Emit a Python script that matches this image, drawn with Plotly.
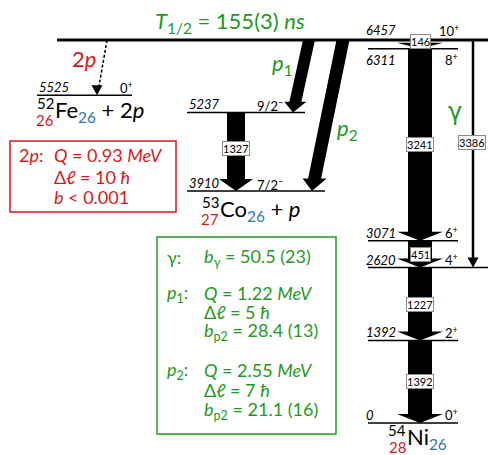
import plotly.graph_objects as go

# ---------------- data ----------------
ni_E = [0, 1392, 2620, 3071, 6311, 6457]
ni_spin = ["0", "2", "4", "6", "8", "10"]
ni_parity = ["+", "+", "+", "+", "+", "+"]
ni_gamma_from = [6457, 6311, 3071, 2620, 1392]
ni_gamma_to = [6311, 3071, 2620, 1392, 0]
ni_gamma_E = [146, 3241, 451, 1227, 1392]
cross_gamma_from = 6457
cross_gamma_to = 2620
cross_gamma_E = 3386

co_E = [3910, 5237]
co_spin = ["7/2", "9/2"]
co_gamma_from = 5237
co_gamma_to = 3910
co_gamma_E = 1327

fe_E = [5525]
fe_spin = ["0"]

p1_from, p1_to = 6457, 5237
p2_from, p2_to = 6457, 3910
p2p_from, p2p_to = 6457, 5525

GREEN = "#1f9a1f"
RED = "#d7191c"
BLUE = "#2e75b6"
FONT = "Lato"

# axis: x in px-like units, y in keV
Y0, Y1 = -540, 7133
KPP = (Y1 - Y0) / 455.0   # keV per pixel


def Y(py):
    return Y1 - py * KPP


def P(E):
    return (Y1 - E) / KPP


fig = go.Figure()
shapes = []
ann = []


def line(x0, x1, E, w=1.5):
    shapes.append(dict(type="line", x0=x0, x1=x1, y0=E, y1=E, xref="x", yref="y",
                       line=dict(color="black", width=w)))


def poly(pts, color="black"):
    path = "M " + " L ".join(f"{x:.2f},{y:.2f}" for x, y in pts) + " Z"
    shapes.append(dict(type="path", path=path, xref="x", yref="y",
                       fillcolor=color, line=dict(color=color, width=0)))


def text(x, py, s, size=13, color="black", xanchor="left", italic=False, family=FONT, **kw):
    if italic:
        s = "<i>" + s + "</i>"
    ann.append(dict(x=x, y=Y(py), xref="x", yref="y", text=s, showarrow=False,
                    xanchor=xanchor, yanchor="middle",
                    font=dict(size=size, color=color, family=family), **kw))


def box_label(x, E_mid, s):
    ann.append(dict(x=x, y=E_mid, xref="x", yref="y", text=s, showarrow=False,
                    xanchor="center", yanchor="middle", bgcolor="white",
                    bordercolor="#8a8a8a", borderwidth=1, borderpad=0,
                    font=dict(size=11, color="black", family=FONT)))


def vert_arrow(xc, E_from, E_to, half_shaft, half_head, head_px):
    Eb = E_to + head_px * KPP
    poly([(xc - half_shaft, E_from), (xc + half_shaft, E_from), (xc + half_shaft, Eb),
          (xc + half_head, Eb), (xc, E_to), (xc - half_head, Eb), (xc - half_shaft, Eb)])


def slant_arrow(x_top, E_from, x_tip, E_to, half_shaft, half_head, head_px):
    y_top, y_tip = P(E_from), P(E_to)
    dx, dy = x_tip - x_top, y_tip - y_top
    L = (dx * dx + dy * dy) ** 0.5
    ux, uy = dx / L, dy / L
    bx, by = x_tip - ux * head_px, y_tip - uy * head_px
    pts = [(x_top - half_shaft, y_top), (x_top + half_shaft, y_top),
           (bx + half_shaft, by), (bx + half_head, by), (x_tip, y_tip),
           (bx - half_head, by), (bx - half_shaft, by)]
    poly([(x, Y(y)) for x, y in pts])


# ---------------- Ni column ----------------
XC = 420
for f, t, e in zip(ni_gamma_from, ni_gamma_to, ni_gamma_E):
    if e == 146:
        vert_arrow(XC, f, t, 7, 23, 6)
    else:
        vert_arrow(XC, f, t, 12, 23, 9)

for E, sp, par in zip(ni_E, ni_spin, ni_parity):
    if E == 6457:
        line(57, 488, E, 3)
    elif E == 2620:
        line(368, 488, E, 1.5)
    else:
        line(368, 458, E, 1.5)
    off = 11 if E == 6311 else (-10 if E == 6457 else -8)
    text(364, P(E) + off, str(E), size=13, italic=True, xanchor="left")
    text(437 if len(sp) > 1 else 443, P(E) + off, f"{sp}<sup>{par}</sup>", size=13)

for f, t, e in zip(ni_gamma_from, ni_gamma_to, ni_gamma_E):
    mid = (f + t) / 2
    if e == 146:
        mid = Y(41.5)
    box_label(XC, mid, str(e))

# cross gamma 3386
xg = 473
shapes.append(dict(type="line", x0=xg, x1=xg, y0=cross_gamma_from, y1=cross_gamma_to + 9 * KPP,
                   xref="x", yref="y", line=dict(color="black", width=2.5)))
poly([(xg - 5.5, cross_gamma_to + 10 * KPP), (xg + 5.5, cross_gamma_to + 10 * KPP), (xg, cross_gamma_to)])
box_label(472, Y(142), str(cross_gamma_E))
text(455, 112, "γ", size=24, color=GREEN, xanchor="center", family="DejaVu Sans")

# ---------------- Co ----------------
for E, sp in zip(co_E, co_spin):
    line(187, 305 if E == 5237 else 325, E, 1.5)
    text(187, P(E) - 8, str(E), size=13, italic=True)
    text(255, P(E) - 7, sp + "<sup>−</sup>", size=13)
vert_arrow(236, co_gamma_from, co_gamma_to, 9, 17, 12)
box_label(236, Y(148), str(co_gamma_E))

# p1, p2 proton arrows
slant_arrow(309, p1_from, 293, p1_to, 6, 11, 11)
slant_arrow(343, p2_from, 312, p2_to, 6.5, 12, 13)
text(282, 64, "<i>p</i><sub>1</sub>", size=22, color=GREEN, xanchor="center")
text(347, 129, "<i>p</i><sub>2</sub>", size=22, color=GREEN, xanchor="center")

# ---------------- Fe ----------------
for E, sp in zip(fe_E, fe_spin):
    line(37, 132, E, 1.5)
    text(37, P(E) - 8, str(E), size=13, italic=True)
    text(118, P(E) - 8, sp + "<sup>+</sup>", size=13)
xt, yt = 97, P(p2p_to)
shapes.append(dict(type="line", x0=107, x1=99, y0=p2p_from, y1=Y(yt - 9), xref="x", yref="y",
                   line=dict(color="black", width=1.5, dash="3px,2px")))
poly([(91.5, Y(yt - 10)), (102.5, Y(yt - 10)), (xt, p2p_to)])
text(84, 58, "2<i>p</i>", size=22, color=RED, xanchor="center")

# ---------------- titles & isotope names ----------------
text(230, 22, "<i>T</i><sub>1/2</sub> = 155(3) <i>ns</i>", size=22, color=GREEN, xanchor="center")


def isotope(x, py, A, Z, sym, N, tail):
    text(x + 8, py - 8, str(A), size=15, xanchor="center")
    text(x + 8, py + 9, str(Z), size=15, color=RED, xanchor="center")
    text(x + 16, py, sym + f"<sub><span style='color:{BLUE}'>{N}</span></sub>" + tail, size=22)


isotope(37, 111, 52, 26, "Fe", 26, " + 2<i>p</i>")
isotope(202, 210, 53, 27, "Co", 26, " + <i>p</i>")
isotope(389, 438, 54, 28, "Ni", 26, "")

# ---------------- boxes ----------------
shapes.append(dict(type="rect", x0=10, x1=176, y0=Y(141), y1=Y(212), xref="x", yref="y",
                   line=dict(color=RED, width=1.5)))
text(17, 155, "2<i>p</i>:", size=18, color=RED)
text(52, 155, "<i>Q</i> = 0.93 <i>MeV</i>", size=18, color=RED)
text(52, 177, "Δ<i>ℓ</i> = 10 <i>ħ</i>", size=18, color=RED)
text(52, 197, "<i>b</i> &lt; 0.001", size=18, color=RED)

shapes.append(dict(type="rect", x0=157, x1=336, y0=Y(237), y1=Y(434), xref="x", yref="y",
                   line=dict(color=GREEN, width=1.5)))
text(165, 257, "γ:", size=18, color=GREEN)
text(202, 257, "<i>b</i><sub>γ</sub> = 50.5 (23)", size=18, color=GREEN)
text(165, 293, "<i>p</i><sub>1</sub>:", size=18, color=GREEN)
text(202, 293, "<i>Q</i> = 1.22 <i>MeV</i>", size=18, color=GREEN)
text(202, 312, "Δ<i>ℓ</i> = 5 <i>ħ</i>", size=18, color=GREEN)
text(202, 331, "<i>b</i><sub>p2</sub> = 28.4 (13)", size=18, color=GREEN)
text(165, 370, "<i>p</i><sub>2</sub>:", size=18, color=GREEN)
text(202, 370, "<i>Q</i> = 2.55 <i>MeV</i>", size=18, color=GREEN)
text(202, 390, "Δ<i>ℓ</i> = 7 <i>ħ</i>", size=18, color=GREEN)
text(202, 410, "<i>b</i><sub>p2</sub> = 21.1 (16)", size=18, color=GREEN)

fig.update_layout(
    width=488, height=455, margin=dict(l=0, r=0, t=0, b=0),
    paper_bgcolor="white", plot_bgcolor="white",
    xaxis=dict(range=[0, 488], visible=False, fixedrange=True),
    yaxis=dict(range=[Y0, Y1], visible=False, fixedrange=True),
    shapes=shapes, annotations=ann, showlegend=False,
)
fig.write_html("out.html", config={"displayModeBar": False},
               post_script="document.body.style.margin='0';document.body.style.overflow='hidden';")
